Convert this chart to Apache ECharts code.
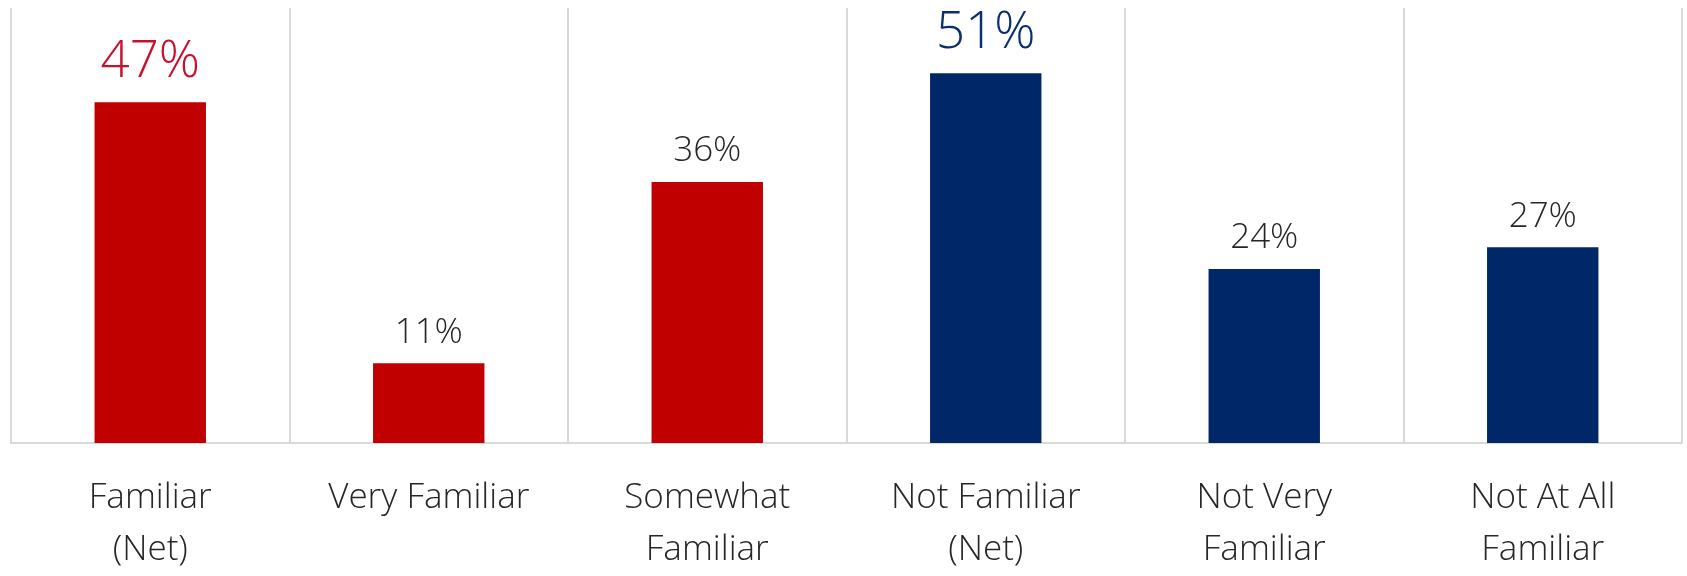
<!DOCTYPE html>
<html>
<head>
<meta charset="utf-8">
<title>Familiarity</title>
<script src="https://cdn.jsdelivr.net/npm/echarts@6/dist/echarts.min.js"></script>
<style>
  html, body { margin: 0; padding: 0; background: #ffffff; }
  #chart { width: 1687px; height: 576px; }
</style>
</head>
<body>
<div id="chart"></div>
<script>
// Survey answers, grouped into the familiar and not-familiar sides
const categories = ['Familiar\n(Net)', 'Very Familiar', 'Somewhat\nFamiliar', 'Not Familiar\n(Net)', 'Not Very\nFamiliar', 'Not At All\nFamiliar'];
const values = [47, 11, 36, 51, 24, 27];
const sides = ['familiar', 'familiar', 'familiar', 'unfamiliar', 'unfamiliar', 'unfamiliar'];

const FONT = "'Open Sans', 'Noto Sans', sans-serif";
const barColor = { familiar: '#C00000', unfamiliar: '#002868' };
const netLabelColor = { familiar: '#C8102E', unfamiliar: '#0B2F6E' };

// Net totals get a larger label in the colour of their side
const seriesData = values.map((v, i) => {
  const isNet = categories[i].indexOf('(Net)') !== -1;
  return {
    value: v,
    itemStyle: { color: barColor[sides[i]] },
    label: isNet
      ? { fontSize: 51, color: netLabelColor[sides[i]], distance: 14 }
      : { fontSize: 35, color: '#262626', distance: 13 }
  };
});

const chart = echarts.init(document.getElementById('chart'), null, { renderer: 'canvas' });
chart.setOption({
  animation: false,
  backgroundColor: '#ffffff',
  grid: { left: 11, right: 5, top: 8, bottom: 126, containLabel: false },
  xAxis: {
    type: 'category',
    data: categories,
    boundaryGap: true,
    axisLine: { show: true, lineStyle: { color: '#D9D9D9', width: 2 } },
    axisTick: { show: false },
    splitLine: { show: true, lineStyle: { color: '#D9D9D9', width: 2 } },
    axisLabel: {
      interval: 0,
      margin: 29,
      fontFamily: FONT,
      fontWeight: 300,
      fontSize: 35,
      lineHeight: 52,
      color: '#262626'
    }
  },
  yAxis: {
    type: 'value',
    min: 0,
    max: 60,
    show: false,
    splitLine: { show: false }
  },
  series: [{
    type: 'bar',
    data: seriesData,
    barWidth: '40%',
    label: {
      show: true,
      position: 'top',
      fontFamily: FONT,
      fontWeight: 300,
      formatter: p => p.value + '%'
    }
  }]
});
</script>
</body>
</html>
